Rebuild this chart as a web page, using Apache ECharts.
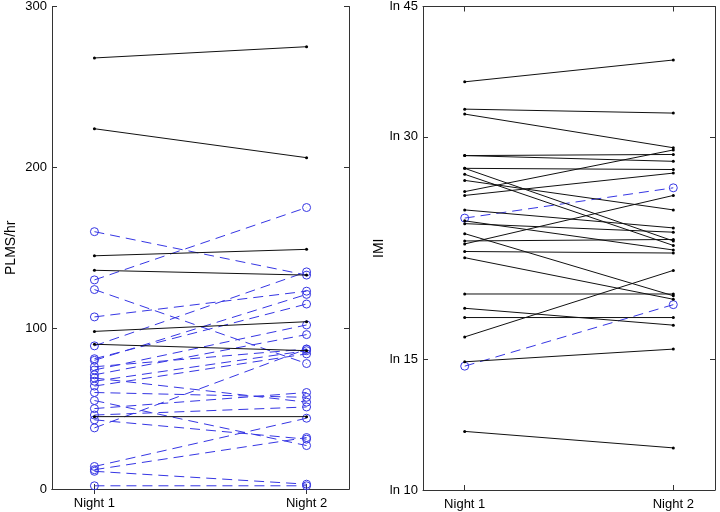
<!DOCTYPE html>
<html>
<head>
<meta charset="utf-8">
<script src="https://cdn.jsdelivr.net/npm/echarts@6/dist/echarts.min.js"></script>
<style>html,body{margin:0;padding:0;background:#fff}#c{width:720px;height:512px}</style>
</head>
<body>
<div id="c"></div>
<script>
// ---- data ----
var nights = ['Night 1', 'Night 2'];
var nightPos = [1, 2];
var leftYTicks = [0, 100, 200, 300];
var rightYTicks = [10, 15, 30, 45];

// Left panel: PLMS/hr
var leftBlackN1 = [268, 224, 145, 136, 98, 90, 45];
var leftBlackN2 = [275, 206, 149, 133, 104, 86, 45];
var leftBlueN1 = [160, 130, 124, 107, 89, 81, 80, 76, 74, 71, 69, 67, 64, 60, 55, 50, 46, 43, 38, 14, 12, 11, 2];
var leftBlueN2 = [133, 175, 78, 123, 135, 115, 121, 87, 102, 96, 54, 86, 84, 57, 27, 60, 51, 31, 87, 44, 32, 3, 2];

// Right panel: IMI (log scale)
var rightBlackN1 = [35.6, 32.7, 32.2, 28.3, 28.3, 27.2, 27.2, 26.7, 26.2, 25.3, 25.0, 23.9, 23.1, 22.9, 22.2, 21.7, 21.5, 21.0, 20.6, 18.4, 17.6, 17.1, 16.1, 14.9, 12.0];
var rightBlackN2 = [38.1, 32.3, 29.0, 28.4, 27.8, 27.1, 21.7, 21.4, 23.9, 28.8, 26.8, 22.6, 21.1, 22.3, 18.3, 21.8, 25.0, 20.9, 18.1, 18.4, 16.7, 17.1, 19.8, 15.5, 11.4];
var rightBlueN1 = [23.3, 14.7];
var rightBlueN2 = [25.6, 17.8];

// ---- chart ----
var AX = '#333';
var BLUE = '#3636e4';
var FONT = 'Liberation Sans, Arial, sans-serif';
var chart = echarts.init(document.getElementById('c'), null, {renderer: 'canvas'});

function xAxes(gi) {
  return [{
    type: 'value', gridIndex: gi, min: 0.8, max: 2.2, position: 'bottom',
    axisLine: {show: true, lineStyle: {color: AX, width: 1}},
    axisTick: {show: true, inside: true, length: 5, customValues: nightPos, lineStyle: {color: AX}},
    axisLabel: {show: true, customValues: nightPos, color: '#000', fontSize: 13, fontFamily: FONT, margin: 8,
      formatter: function (v) { return nights[Math.round(v) - 1]; }},
    splitLine: {show: false}
  }, {
    type: 'value', gridIndex: gi, min: 0.8, max: 2.2, position: 'top',
    axisLine: {show: true, lineStyle: {color: AX, width: 1}},
    axisTick: {show: true, inside: true, length: 5, customValues: nightPos, lineStyle: {color: AX}},
    axisLabel: {show: false},
    splitLine: {show: false}
  }];
}

var option = {
  animation: false,
  backgroundColor: '#fff',
  grid: [
    {left: 52, top: 6, width: 297, height: 483},
    {left: 423, top: 6, width: 292, height: 484}
  ],
  xAxis: xAxes(0).concat(xAxes(1)),
  yAxis: [
    {type: 'value', gridIndex: 0, min: 0, max: 300, position: 'left',
      name: 'PLMS/hr', nameLocation: 'middle', nameGap: 34, nameRotate: 90,
      nameTextStyle: {color: '#000', fontSize: 14, fontFamily: FONT},
      axisLine: {show: true, lineStyle: {color: AX}},
      axisTick: {show: true, inside: true, length: 5, customValues: leftYTicks, lineStyle: {color: AX}},
      axisLabel: {customValues: leftYTicks, color: '#000', fontSize: 13, fontFamily: FONT, margin: 5},
      splitLine: {show: false}},
    {type: 'value', gridIndex: 0, min: 0, max: 300, position: 'right',
      axisLine: {show: true, lineStyle: {color: AX}},
      axisTick: {show: true, inside: true, length: 5, customValues: leftYTicks, lineStyle: {color: AX}},
      axisLabel: {show: false}, splitLine: {show: false}},
    {type: 'log', logBase: Math.E, gridIndex: 1, min: 10, max: 45, position: 'left',
      name: 'IMI', nameLocation: 'middle', nameGap: 20, nameRotate: 90,
      nameTextStyle: {color: '#000', fontSize: 14, fontFamily: FONT},
      axisLine: {show: true, lineStyle: {color: AX}},
      axisTick: {show: true, inside: true, length: 5, customValues: rightYTicks, lineStyle: {color: AX}},
      axisLabel: {customValues: rightYTicks, color: '#000', fontSize: 13, fontFamily: FONT, margin: 5,
        formatter: function (v) { return 'ln ' + Math.round(v); }},
      splitLine: {show: false}},
    {type: 'log', logBase: Math.E, gridIndex: 1, min: 10, max: 45, position: 'right',
      axisLine: {show: true, lineStyle: {color: AX}},
      axisTick: {show: true, inside: true, length: 5, customValues: rightYTicks, lineStyle: {color: AX}},
      axisLabel: {show: false}, splitLine: {show: false}}
  ],
  series: []
};

function addPairs(n1, n2, xi, yi, blue) {
  for (var i = 0; i < n1.length; i++) {
    option.series.push({
      type: 'line', xAxisIndex: xi, yAxisIndex: yi,
      data: [[nightPos[0], n1[i]], [nightPos[1], n2[i]]],
      symbol: 'circle',
      symbolSize: blue ? 8 : 3,
      showSymbol: true,
      showAllSymbol: true,
      silent: true,
      z: blue ? 2 : 3,
      itemStyle: blue ? {color: 'rgba(255,255,255,0)', borderColor: BLUE, borderWidth: 1} : {color: '#000'},
      lineStyle: blue ? {color: BLUE, width: 1, type: [10, 6]} : {color: '#111', width: 1}
    });
  }
}
addPairs(leftBlueN1, leftBlueN2, 0, 0, true);
addPairs(leftBlackN1, leftBlackN2, 0, 0, false);
addPairs(rightBlackN1, rightBlackN2, 2, 2, false);
addPairs(rightBlueN1, rightBlueN2, 2, 2, true);

chart.setOption(option);
</script>
</body>
</html>
